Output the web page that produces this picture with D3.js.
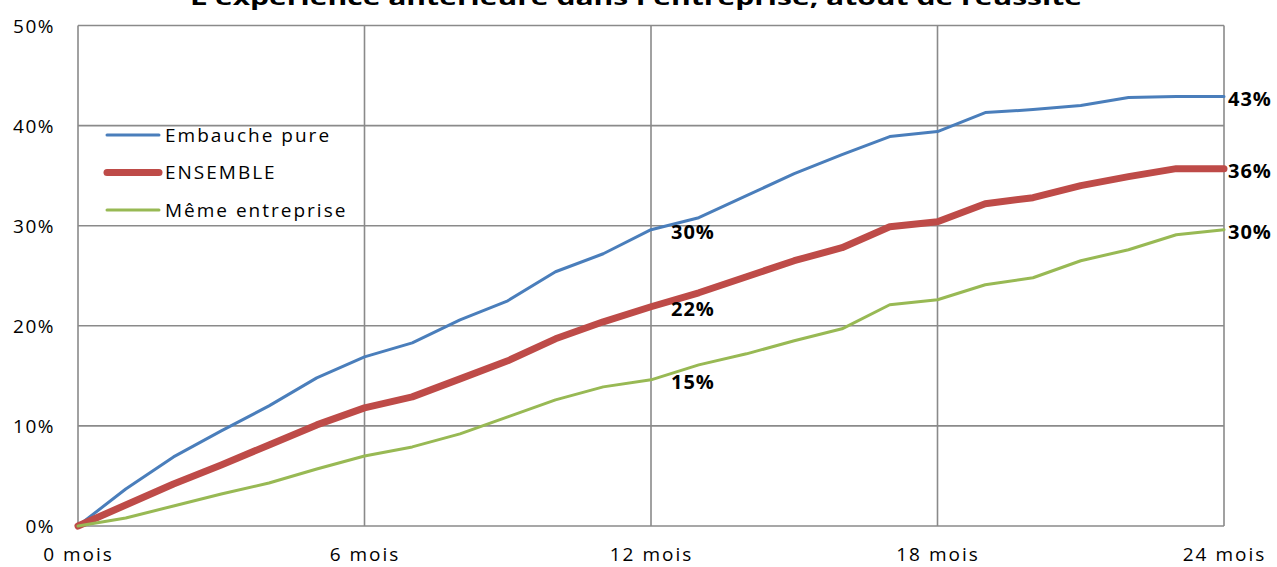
<!DOCTYPE html>
<html><head><meta charset="utf-8">
<script src="https://cdn.jsdelivr.net/npm/d3@7"></script>
<style>
html,body{margin:0;padding:0;background:#fff;overflow:hidden;}
text{font-family:"Open Sans",sans-serif;fill:#000;}
</style></head>
<body>
<svg id="chart" width="1277" height="567"></svg>
<script>
const title = "L'expérience antérieure dans l'entreprise, atout de réussite";
const months = d3.range(0, 25);
const xTicks = [0, 6, 12, 18, 24];
const xTickLabels = ["0 mois", "6 mois", "12 mois", "18 mois", "24 mois"];
const yTicks = [0, 0.1, 0.2, 0.3, 0.4, 0.5];
const seriesNames = ["Embauche pure", "ENSEMBLE", "Même entreprise"];
const embauchePure = [0, 3.7, 6.9, 9.5, 12.0, 14.8, 16.9, 18.3, 20.6, 22.5, 25.4, 27.2, 29.6, 30.8, 33.0, 35.2, 37.1, 38.9, 39.4, 41.3, 41.6, 42.0, 42.8, 42.9, 42.9];
const ensemble = [0, 2.1, 4.2, 6.1, 8.1, 10.1, 11.8, 12.9, 14.7, 16.5, 18.7, 20.4, 21.9, 23.3, 24.9, 26.5, 27.8, 29.9, 30.4, 32.2, 32.8, 34.0, 34.9, 35.7, 35.7];
const memeEntreprise = [0, 0.8, 2.0, 3.2, 4.3, 5.7, 7.0, 7.9, 9.2, 10.9, 12.6, 13.9, 14.6, 16.1, 17.2, 18.5, 19.7, 22.1, 22.6, 24.1, 24.8, 26.5, 27.6, 29.1, 29.6];
const labelMonths = [12, 24];

const colors = ["#4A7EBB", "#BE4B48", "#98B954"];
const widths = [3, 7, 3];
const seriesValues = [embauchePure, ensemble, memeEntreprise];

const svg = d3.select("#chart");
const L = 78, R = 1224, T = 25.5, B = 526;
const x = d3.scaleLinear().domain([0, 24]).range([L, R]);
const y = d3.scaleLinear().domain([0, 0.5]).range([B, T]);
const grid = "#8a8a8a";

// Title (partly clipped at top, as in reference)
svg.append("text").attr("x", 190).attr("y", 5)
  .attr("font-size", 22).attr("font-weight", "bold")
  .attr("textLength", 892).attr("lengthAdjust", "spacingAndGlyphs")
  .text(title);

// gridlines
svg.append("g").selectAll("line").data(yTicks).join("line")
  .attr("x1", L).attr("x2", R).attr("y1", d => y(d)).attr("y2", d => y(d))
  .attr("stroke", grid).attr("stroke-width", 1.6);
svg.append("g").selectAll("line").data(xTicks).join("line")
  .attr("x1", d => x(d)).attr("x2", d => x(d)).attr("y1", T).attr("y2", B)
  .attr("stroke", grid).attr("stroke-width", 1.6);

// axes labels via d3 axes
const yAxis = d3.axisLeft(y).tickValues(yTicks).tickFormat(d3.format(".0%")).tickSize(0).tickPadding(0);
const gy = svg.append("g").attr("transform", `translate(${L - 23},0)`).call(yAxis);
gy.select(".domain").remove();
gy.selectAll("text").attr("font-size", 19).attr("letter-spacing", 1.5).attr("fill", "#000")
  .attr("font-family", "'Open Sans',sans-serif").attr("dy", "0.35em");

const xAxis = d3.axisBottom(x).tickValues(xTicks).tickFormat((d, i) => xTickLabels[i]).tickSize(0).tickPadding(0);
const gx = svg.append("g").attr("transform", `translate(0,${B + 28})`).call(xAxis);
gx.select(".domain").remove();
gx.selectAll("text").attr("font-size", 19).attr("letter-spacing", 2).attr("fill", "#000")
  .attr("font-family", "'Open Sans',sans-serif").attr("dy", "0.35em");

// lines
const line = d3.line().x((d, i) => x(months[i])).y(d => y(d / 100));
seriesValues.forEach((vals, s) => {
  svg.append("path").datum(vals).attr("d", line)
    .attr("fill", "none").attr("stroke", colors[s]).attr("stroke-width", widths[s])
    .attr("stroke-linejoin", "round").attr("stroke-linecap", "round");
});

// data labels
const fmt = d3.format(".0%");
seriesValues.forEach((vals, s) => {
  labelMonths.forEach(m => {
    const off = m === 24 ? 4 : 20;
    svg.append("text").attr("x", x(m) + off).attr("y", y(vals[m] / 100) + 2)
      .attr("dy", "0.35em").attr("font-size", 20).attr("font-weight", "bold")
      .attr("letter-spacing", 1)
      .text(fmt(vals[m] / 100));
  });
});

// legend
const lg = svg.append("g");
seriesNames.forEach((n, i) => {
  const ly = 135 + i * 37.5;
  lg.append("line").attr("x1", 107).attr("x2", 159).attr("y1", ly).attr("y2", ly)
    .attr("stroke", colors[i]).attr("stroke-width", widths[i]).attr("stroke-linecap", "round");
  lg.append("text").attr("x", 165).attr("y", ly).attr("dy", "0.35em")
    .attr("font-size", 19).attr("letter-spacing", 2).text(n);
});
</script>
</body></html>
